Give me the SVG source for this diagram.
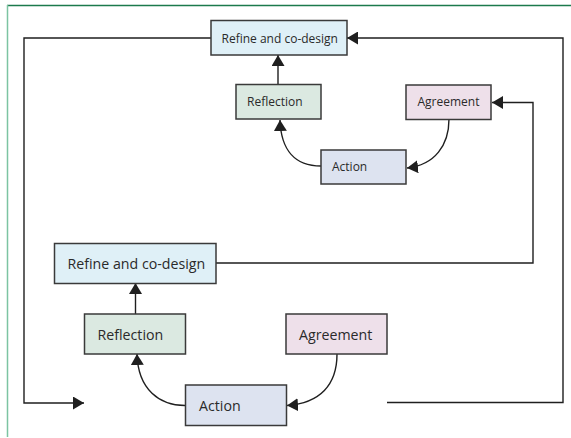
<svg xmlns="http://www.w3.org/2000/svg" width="571" height="438" viewBox="0 0 571 438">
<style>
.box{stroke:#3a3a3a;stroke-width:1.5}
.refine{fill:#dff0f7}
.refl{fill:#dbe9e1}
.agree{fill:#eee0ea}
.act{fill:#dde3f0}
.t{font-family:"Open Sans","Liberation Sans",sans-serif;fill:#2a2a2a}
.s{font-size:12px}
.l{font-size:14.2px}
.c{fill:none;stroke:#1f1f1f;stroke-width:1.4}
</style>
<defs>
<marker id="ah" markerUnits="userSpaceOnUse" markerWidth="12" markerHeight="13" refX="11" refY="6.5" orient="auto">
<path d="M0,0 L11,6.5 L0,13 z" fill="#1f1f1f"/>
</marker>
</defs>
<rect width="571" height="438" fill="#ffffff"/>
<line x1="7" y1="5.5" x2="571" y2="5.5" stroke="#1c7a4c" stroke-width="1.5"/>
<line x1="7.5" y1="5" x2="7.5" y2="437" stroke="#7cc4a2" stroke-width="1.5"/>
<g id="connectors">
<path class="c" d="M211,38 H24 V403 H84" marker-end="url(#ah)"/>
<path class="c" d="M387,402.5 H563 V38 H347" marker-end="url(#ah)"/>
<path class="c" d="M216,263 H533 V102.5 H492" marker-end="url(#ah)"/>
<path class="c" d="M278,84 V55" marker-end="url(#ah)"/>
<path class="c" d="M135.5,314 V283" marker-end="url(#ah)"/>
<path class="c" d="M321,166 C295,166 281,150 280,120" marker-end="url(#ah)"/>
<path class="c" d="M449,119 C449,145 435,165 407,168" marker-end="url(#ah)"/>
<path class="c" d="M185,405.5 C160,405.5 138,390 137,354" marker-end="url(#ah)"/>
<path class="c" d="M337,354 C337,385 320,403 287,405.5" marker-end="url(#ah)"/>
</g>
<g id="refine-top">
<rect class="box refine" x="211" y="20.5" width="136" height="34.5"/>
<text class="t s" x="221.5" y="42.5">Refine and co-design</text>
</g>
<g id="reflection-top">
<rect class="box refl" x="236" y="84.5" width="85" height="34.5"/>
<text class="t s" x="247" y="106">Reflection</text>
</g>
<g id="agreement-top">
<rect class="box agree" x="406" y="85" width="85" height="34.5"/>
<text class="t s" x="417.5" y="106">Agreement</text>
</g>
<g id="action-top">
<rect class="box act" x="321" y="150" width="85" height="34"/>
<text class="t s" x="332" y="171">Action</text>
</g>
<g id="refine-bottom">
<rect class="box refine" x="54.5" y="243.5" width="161.5" height="40"/>
<text class="t l" x="67.5" y="268.5">Refine and co-design</text>
</g>
<g id="reflection-bottom">
<rect class="box refl" x="84.5" y="314" width="101" height="40"/>
<text class="t l" x="97.5" y="339.5">Reflection</text>
</g>
<g id="agreement-bottom">
<rect class="box agree" x="286" y="314" width="101" height="40"/>
<text class="t l" x="299" y="339.5">Agreement</text>
</g>
<g id="action-bottom">
<rect class="box act" x="185.5" y="385" width="101" height="40.5"/>
<text class="t l" x="199" y="411">Action</text>
</g>
</svg>
